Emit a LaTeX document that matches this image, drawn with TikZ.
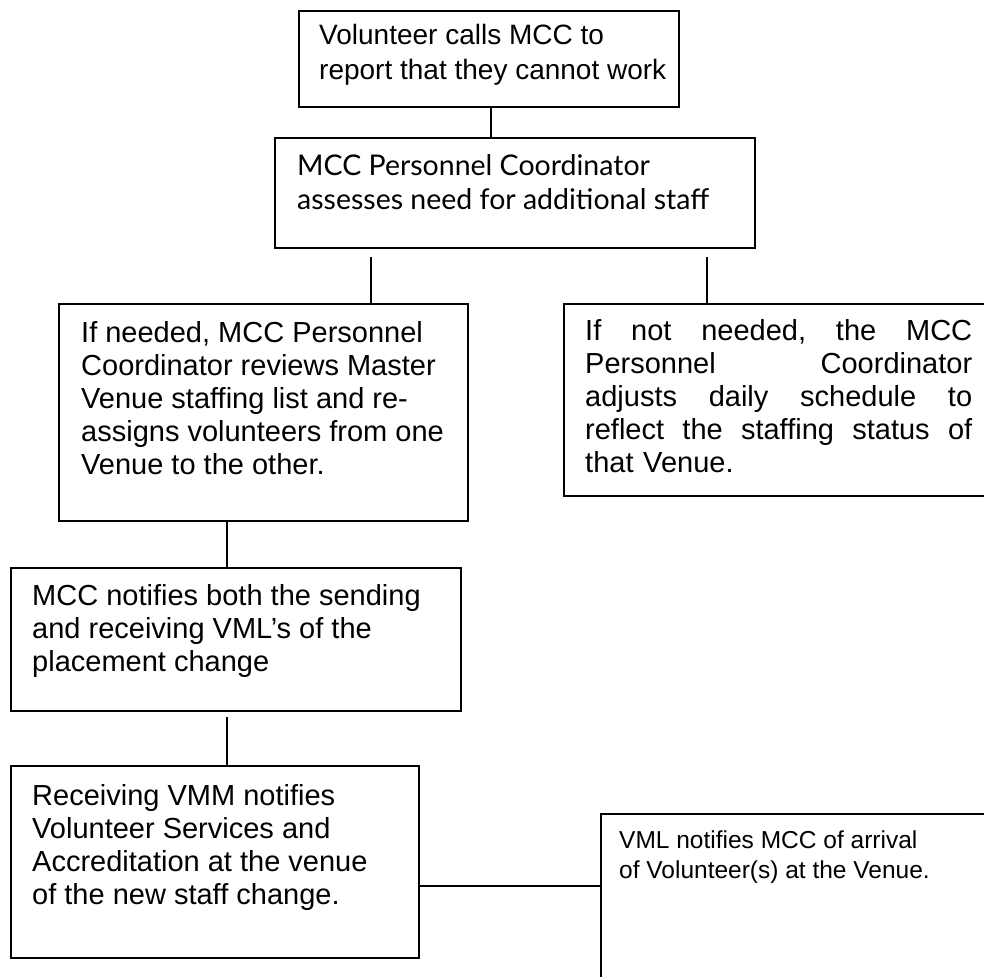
\documentclass[tikz,border=0pt]{standalone}
\usepackage{fontspec}
\setmainfont{Liberation Sans}
\newfontfamily\handfont{Lato}
\usetikzlibrary{calc}
\begin{document}
\begin{tikzpicture}[x=1pt,y=-1pt,
  box/.style={draw, line width=1.6pt, rectangle, inner sep=0pt, anchor=north west},
  wire/.style={line width=1.3pt},
  % plain texts are placed by the baseline of their last line
  txt/.style={inner sep=0pt, anchor=base west, align=left, font=\fontsize{29}{33}\selectfont}]
\useasboundingbox[fill=white] (0,0) rectangle (984,976);

% boxes
\node[box, minimum width=380pt, minimum height=96pt]  (b1) at (298,10)  {};
\node[box, minimum width=480pt, minimum height=110pt] (b2) at (274,137) {};
\node[box, minimum width=409pt, minimum height=217pt] (b3) at (58,303)  {};
\node[box, minimum width=430pt, minimum height=192pt] (b4) at (563,303) {};
\node[box, minimum width=450pt, minimum height=143pt] (b5) at (10,567)  {};
\node[box, minimum width=408pt, minimum height=192pt] (b6) at (10,765)  {};
\node[box, minimum width=400pt, minimum height=200pt] (b7) at (600,813) {};

% texts
\node[txt, font=\fontsize{28}{35}\selectfont] (t1) at (319,80)
  {Volunteer calls MCC to\\report that they cannot work};
\node[txt, font=\handfont\fontsize{28.5}{34}\selectfont] (t2) at (297,210)
  {MCC Personnel Coordinator\\assesses need for additional staff};
\node[txt] (t3) at (81,474)
  {If needed, MCC Personnel\\Coordinator reviews Master\\Venue staffing list and re-\\assigns volunteers from one\\Venue to the other.};
% justified block: with a text width the node's base is its first line
\node[txt, text width=387pt] (t4) at (585,340)
  {\makebox[387pt]{If\hfill not\hfill needed,\hfill the\hfill MCC}\\
   \makebox[387pt]{Personnel\hfill Coordinator}\\
   \makebox[387pt]{adjusts\hfill daily\hfill schedule\hfill to}\\
   \makebox[387pt]{reflect\hfill the\hfill staffing\hfill status\hfill of}\\
   that Venue.};
\node[txt] (t5) at (32,671)
  {MCC notifies both the sending\\and receiving VML’s of the\\placement change};
\node[txt] (t6) at (32,904)
  {Receiving VMM notifies\\Volunteer Services and\\Accreditation at the venue\\of the new staff change.};
\node[txt, font=\fontsize{24.5}{30}\selectfont] (t7) at (619,878)
  {VML notifies MCC of arrival\\of Volunteer(s) at the Venue.};

% connectors
\coordinate (k12) at (491,106);
\coordinate (k23) at (371,257);
\coordinate (k24) at (707,257);
\coordinate (k35) at (227,520);
\coordinate (k56) at (227,717);
\coordinate (k67) at (418,886);
\draw[wire] (k12) -- (k12 |- b2.north);
\draw[wire] (k23) -- (k23 |- b3.north);
\draw[wire] (k24) -- (k24 |- b4.north);
\draw[wire] (k35) -- (k35 |- b5.north);
\draw[wire] (k56) -- (k56 |- b6.north);
\draw[wire] (k67) -- (k67 -| b7.west);
\end{tikzpicture}
\end{document}
